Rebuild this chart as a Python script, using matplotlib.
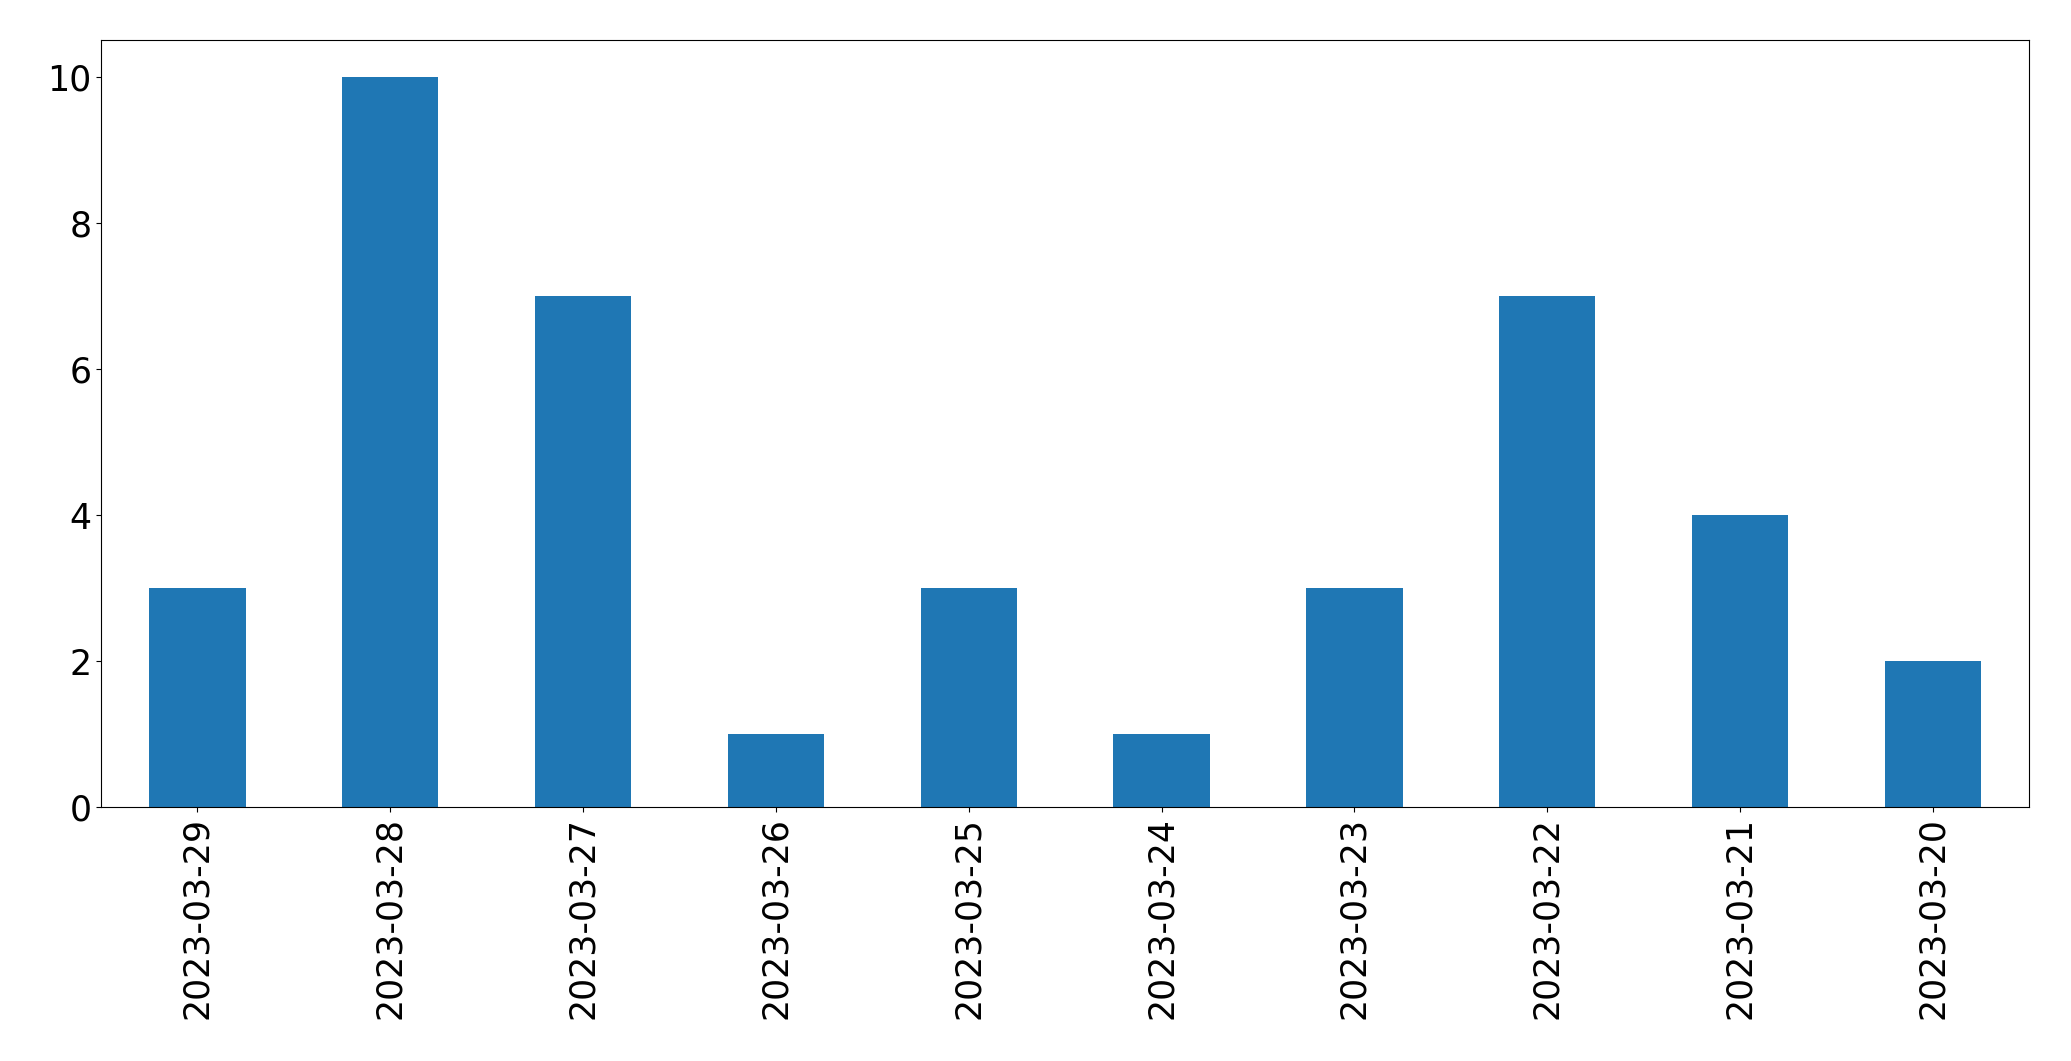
import numpy as np
import matplotlib
matplotlib.use("Agg")
import matplotlib.pyplot as plt

fechas = ["2023-03-29", "2023-03-28", "2023-03-27", "2023-03-26", "2023-03-25",
          "2023-03-24", "2023-03-23", "2023-03-22", "2023-03-21", "2023-03-20"]
cuentas = [3, 10, 7, 1, 3, 1, 3, 7, 4, 2]

fig = plt.figure(figsize=(20.71, 10.61), dpi=100)
ax = fig.add_axes([0.0488, 0.239, 0.931, 0.723])
x = np.arange(len(fechas))
ax.bar(x, cuentas, width=0.5, color='#1f77b4')
ax.set_xticks(x)
ax.set_xticklabels(fechas, rotation=90)
ax.set_xlim(-0.5, len(fechas) - 0.5)
ax.set_ylim(0, 10.5)
ax.tick_params(labelsize=25)
fig.savefig("out.png", dpi=100)
